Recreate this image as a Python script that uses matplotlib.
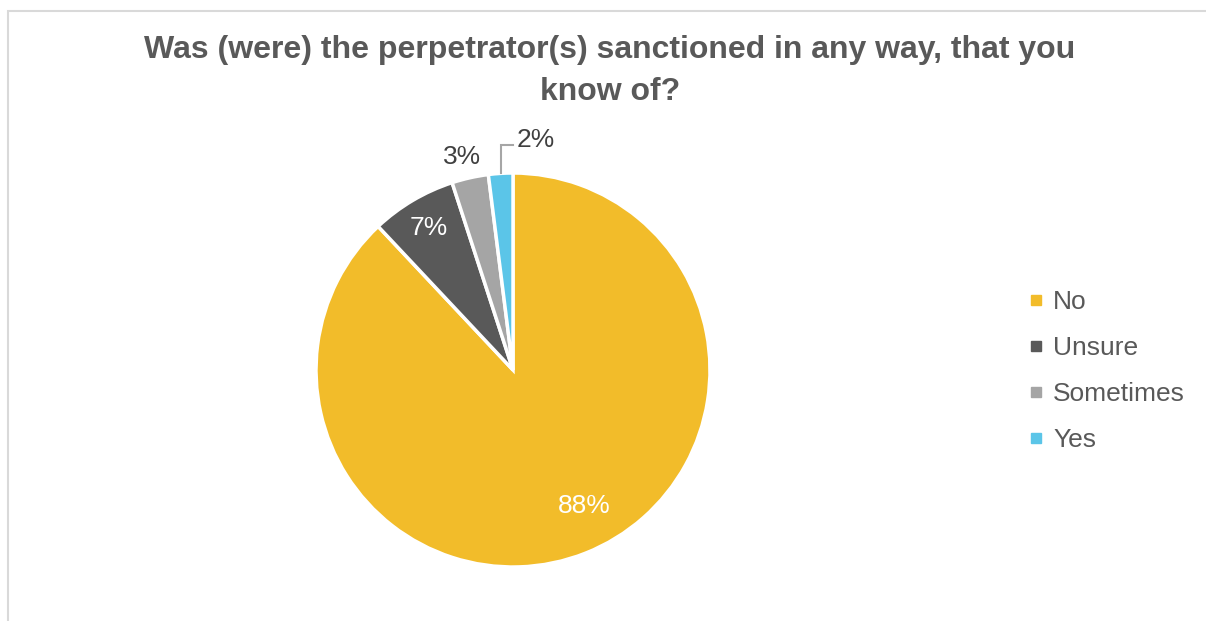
import numpy as np
import matplotlib
matplotlib.use("Agg")
import matplotlib.pyplot as plt
from matplotlib.lines import Line2D
from matplotlib.patches import Rectangle

plt.rcParams["font.family"] = ["Liberation Sans", "DejaVu Sans"]

title = "Was (were) the perpetrator(s) sanctioned in any way, that you\nknow of?"
categories = ["No", "Unsure", "Sometimes", "Yes"]
shares = [88, 7, 3, 2]
colors = ["#F2BC2A", "#595959", "#A5A5A5", "#5BC5E8"]

W, H = 1206, 621
fig = plt.figure(figsize=(W / 100, H / 100), dpi=100)

# light chart-area frame (top and left edges visible)
fig.add_artist(Rectangle((7.5 / W, -0.1), 1.2, 1 - 10.5 / H + 0.1, transform=fig.transFigure,
                         fill=False, edgecolor="#D9D9D9", linewidth=1.5))

fig.text(610 / W, 1 - 71 / H, title, ha="center", va="center", fontsize=23,
         fontweight="bold", color="#595959", linespacing=1.5)

# pie axes: center (513, 370), radius 197 px
cx, cy, r = 513, 370, 197
ax = fig.add_axes([(cx - r) / W, 1 - (cy + r) / H, 2 * r / W, 2 * r / H])
wedges, _ = ax.pie(shares, colors=colors, startangle=90, counterclock=False,
                   wedgeprops=dict(edgecolor="white", linewidth=2.5))
ax.set_xlim(-1, 1)
ax.set_ylim(-1, 1)
ax.axis("off")

# label placement per slice: (radius, angle shift, colour)
label_pos = [(0.78, 6, "white"), (0.84, 0, "white"), (1.11, 1, "#404040"), (None, 0, "#404040")]
for w, val, (lr, shift, col) in zip(wedges, shares, label_pos):
    mid = np.deg2rad((w.theta1 + w.theta2) / 2 + shift)
    txt = f"{val}%"
    if lr is not None:
        ax.text(lr * np.cos(mid), lr * np.sin(mid), txt, ha="center", va="center",
                fontsize=19, color=col)
    else:
        x0, y0 = np.cos(mid), np.sin(mid)
        ax.plot([x0, x0, 0.0], [y0, 1.14, 1.14], color="#A6A6A6", lw=1.5,
                clip_on=False, solid_joinstyle="miter")
        ax.text(0.02, 1.17, txt, ha="left", va="center", fontsize=19, color=col)

handles = [Line2D([], [], marker="s", linestyle="none", markersize=7,
                  markerfacecolor=c, markeredgecolor=c) for c in colors]
fig.legend(handles, categories, loc="center left", bbox_to_anchor=(1015 / W, 1 - 371 / H),
           frameon=False, fontsize=19, labelcolor="#595959", handlelength=0.6,
           handletextpad=0.35, labelspacing=0.83, borderpad=0)

fig.savefig("out.png", dpi=100)
